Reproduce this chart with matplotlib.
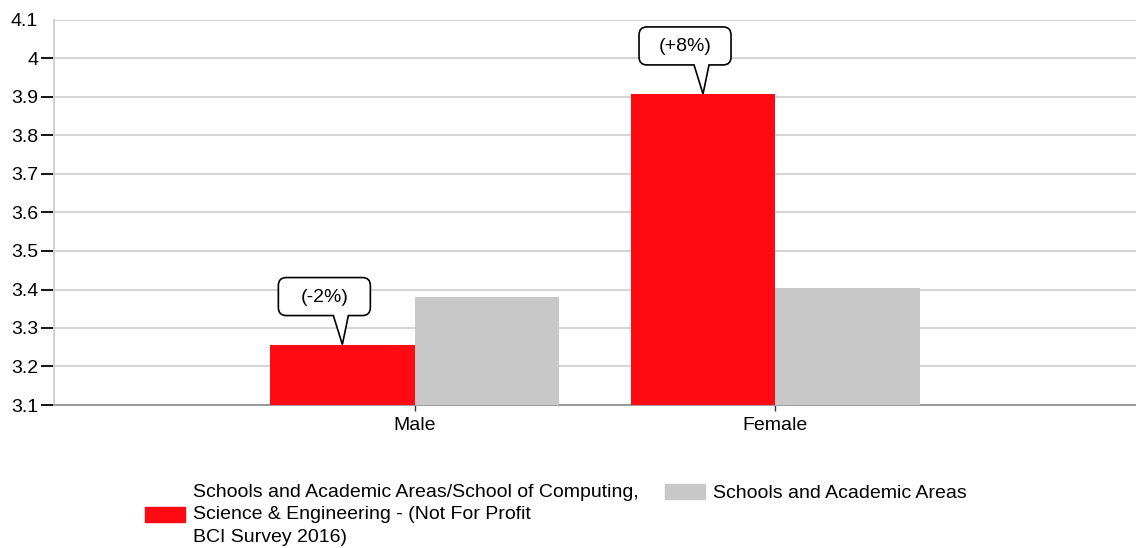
import matplotlib
matplotlib.use('Agg')
import matplotlib.pyplot as plt
import numpy as np
from matplotlib.ticker import FuncFormatter
from matplotlib.path import Path
from matplotlib.patches import PathPatch, Patch
from matplotlib.transforms import IdentityTransform

plt.rcParams['font.family'] = ['Liberation Sans', 'DejaVu Sans']

categories = ['Male', 'Female']
series_names = [
    'Schools and Academic Areas/School of Computing,\nScience & Engineering - (Not For Profit\nBCI Survey 2016)',
    'Schools and Academic Areas',
]
school_vals = [3.257, 3.908]
all_vals = [3.38, 3.403]
callouts = ['(-2%)', '(+8%)']
y_ticks = [3.1, 3.2, 3.3, 3.4, 3.5, 3.6, 3.7, 3.8, 3.9, 4.0, 4.1]

RED = '#ff0a12'
GREY = '#c8c8c8'
FS = 14

fig = plt.figure(figsize=(11.36, 5.48), dpi=100)
ax = fig.add_axes([54 / 1136, 143 / 548, 1082 / 1136, 385 / 548])

x = np.arange(1, len(categories) + 1)
w = 0.401
ax.bar(x - w / 2, school_vals, width=w, color=RED, zorder=3)
ax.bar(x + w / 2, all_vals, width=w, color=GREY, zorder=3)

ax.set_xlim(0, 3)
ax.set_ylim(3.1, 4.1)
ax.set_yticks(y_ticks)
ax.yaxis.set_major_formatter(FuncFormatter(lambda v, p: '%g' % round(v, 2)))
ax.set_xticks(x)
ax.set_xticklabels(categories)
ax.grid(axis='y', color='#d4d4d4', linewidth=1.4, zorder=0)
ax.tick_params(axis='y', length=9.5, width=1.3, color='black', labelsize=FS, pad=2)
ax.tick_params(axis='x', length=4.5, width=1, color='#333333', labelsize=FS, pad=4.5)
ax.yaxis.get_major_ticks()[-1].tick1line.set_visible(False)

for s in ['top', 'right']:
    ax.spines[s].set_visible(False)
ax.spines['left'].set_color('#d0d0d0')
ax.spines['left'].set_linewidth(1.4)
ax.spines['bottom'].set_color('#999999')
ax.spines['bottom'].set_linewidth(1.4)


def bubble(tx, ty, txt):
    # speech bubble in pixel units, pointer tip at (tx, ty)
    L, R, B, T = tx - 64, tx + 28, ty + 29, ty + 67
    r = 8
    verts = [(tx, ty), (tx + 6, B), (R - r, B), (R, B), (R, B + r), (R, T - r),
             (R, T), (R - r, T), (L + r, T), (L, T), (L, T - r), (L, B + r),
             (L, B), (L + r, B), (tx - 9, B), (tx, ty)]
    codes = [Path.MOVETO, Path.LINETO, Path.LINETO, Path.CURVE3, Path.CURVE3,
             Path.LINETO, Path.CURVE3, Path.CURVE3, Path.LINETO, Path.CURVE3,
             Path.CURVE3, Path.LINETO, Path.CURVE3, Path.CURVE3, Path.LINETO,
             Path.CLOSEPOLY]
    p = PathPatch(Path(verts, codes), fc='white', ec='black', lw=1.2,
                  transform=IdentityTransform(), zorder=5)
    fig.add_artist(p)
    fig.text((L + R) / 2, (B + T) / 2 - 1, txt, transform=IdentityTransform(),
             ha='center', va='center', fontsize=FS, zorder=6)


for xi, v, txt in zip(x, school_vals, callouts):
    tx, ty = ax.transData.transform((xi - w / 2, v))
    bubble(tx, ty, txt)

common = dict(frameon=False, fontsize=FS, handlelength=2.06, handleheight=0.82,
              handletextpad=0.41, borderpad=0, borderaxespad=0, labelspacing=0)
leg1 = fig.legend(handles=[Patch(color=RED)], labels=[series_names[0]], loc='upper left',
                  bbox_to_anchor=(145 / 1136, 1 - 484 / 548), **common)
leg2 = fig.legend(handles=[Patch(color=GREY)], labels=[series_names[1]], loc='upper left',
                  bbox_to_anchor=(665 / 1136, 1 - 484 / 548), **common)
for t in leg1.get_texts():
    t.set_linespacing(1.42)

fig.savefig('out.png', dpi=100)
